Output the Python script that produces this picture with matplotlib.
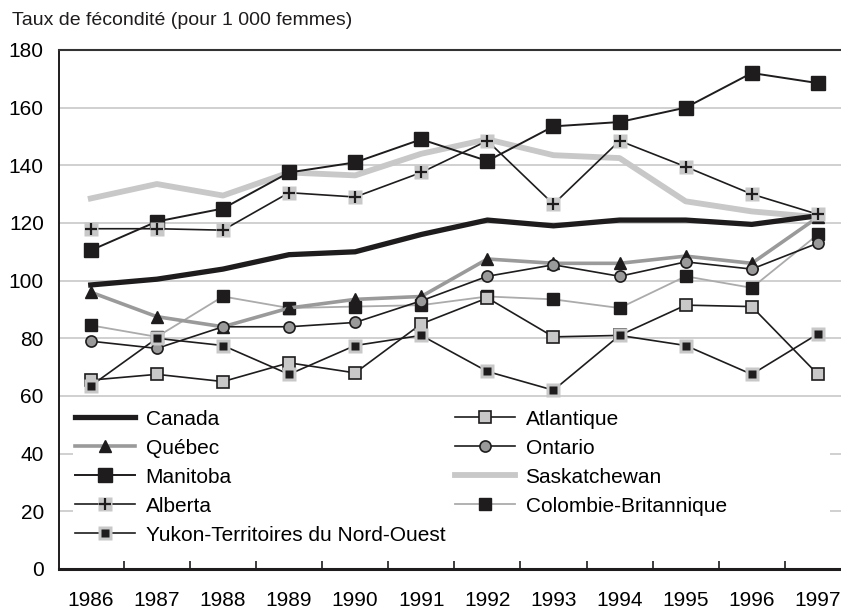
import matplotlib
matplotlib.use("Agg")
import matplotlib.pyplot as plt
import matplotlib.patches as patches
from matplotlib.legend_handler import HandlerTuple

plt.rcParams['font.family'] = ['Liberation Sans', 'DejaVu Sans']

# donnees
annees = [1986, 1987, 1988, 1989, 1990, 1991, 1992, 1993, 1994, 1995, 1996, 1997]
canada = [98.5, 100.5, 104, 109, 110, 116, 121, 119, 121, 121, 119.5, 122.5]
atlantique = [65.5, 67.5, 65, 71.5, 68, 85, 94, 80.5, 81, 91.5, 91, 67.5]
quebec = [96, 87.5, 84, 90.5, 93.5, 94.5, 107.5, 106, 106, 108.5, 106, 122]
ontario = [79, 76.5, 84, 84, 85.5, 93, 101.5, 105.5, 101.5, 106.5, 104, 113]
manitoba = [110.5, 120.5, 125, 137.5, 141, 149, 141.5, 153.5, 155, 160, 172, 168.5]
saskatchewan = [128.5, 133.5, 129.5, 137.5, 136.5, 144, 149, 143.5, 142.5, 127.5, 124, 122]
alberta = [118, 118, 117.5, 130.5, 129, 137.5, 148.5, 126.5, 148.5, 139.5, 130, 123]
colombie = [84.5, 80.5, 94.5, 90.5, 91, 91.5, 94.5, 93.5, 90.5, 101.5, 97.5, 116]
yukon = [63.5, 80, 77.5, 67.5, 77.5, 81, 68.5, 62, 81, 77.5, 67.5, 81.5]
y_ticks = [0, 20, 40, 60, 80, 100, 120, 140, 160, 180]

GRIS_CLAIR = '#c8c8c8'
GRIS = '#9a9a9a'
NOIR = '#1e1c1d'

fig = plt.figure(figsize=(8.41, 6.09), dpi=100)
ax = fig.add_axes([0.0702, 0.0657, 0.9298, 0.8523])

h_sask, = ax.plot(annees, saskatchewan, color=GRIS_CLAIR, lw=4.2, zorder=3)
h_can, = ax.plot(annees, canada, color=NOIR, lw=3.8, zorder=4)
h_cb, = ax.plot(annees, colombie, color='#ababab', lw=1.3, marker='s', ms=9,
                mfc=NOIR, mec=NOIR, zorder=4)
h_que, = ax.plot(annees, quebec, color=GRIS, lw=2.6, marker='^', ms=9,
                 mfc=NOIR, mec=NOIR, zorder=5)
h_ont, = ax.plot(annees, ontario, color=NOIR, lw=1.2, marker='o', ms=8,
                 mfc=GRIS, mec=NOIR, mew=1.2, zorder=5)
h_atl, = ax.plot(annees, atlantique, color=NOIR, lw=1.2, marker='s', ms=8,
                 mfc=GRIS_CLAIR, mec=NOIR, mew=1.2, zorder=6)
h_yuk1, = ax.plot(annees, yukon, color=NOIR, lw=1.2, marker='s', ms=9.5,
                  mfc=GRIS_CLAIR, mec='none', zorder=6)
h_yuk2, = ax.plot(annees, yukon, ls='none', marker='s', ms=6,
                  mfc=NOIR, mec='none', zorder=6)
h_man, = ax.plot(annees, manitoba, color=NOIR, lw=1.4, marker='s', ms=9.5,
                 mfc=NOIR, mec=NOIR, zorder=7)
h_alb1, = ax.plot(annees, alberta, color=NOIR, lw=1.2, marker='s', ms=10.5,
                  mfc=GRIS_CLAIR, mec='none', zorder=7)
h_alb2, = ax.plot(annees, alberta, ls='none', marker='+', ms=8, mew=1.6,
                  color=NOIR, zorder=7)

# axes
ax.set_xlim(1985.52, 1997.35)
ax.set_ylim(0, 180)
ax.set_yticks(y_ticks)
ax.set_yticklabels([str(v) for v in y_ticks], fontsize=15)
ax.set_xticks(annees)
ax.set_xticklabels([str(a) for a in annees], fontsize=15)
ax.set_xticks([a + 0.5 for a in annees[:-1]], minor=True)
ax.tick_params(axis='x', which='major', length=0, pad=16)
ax.tick_params(axis='x', which='minor', direction='in', length=6, width=1.2, color=NOIR)
ax.tick_params(axis='y', length=0, pad=11)
ax.grid(axis='y', color=GRIS_CLAIR, lw=1.2)
ax.set_axisbelow(True)
ax.spines['right'].set_visible(False)
ax.spines['left'].set_linewidth(1.4)
ax.spines['left'].set_color(NOIR)
ax.spines['bottom'].set_linewidth(2.2)
ax.spines['bottom'].set_color(NOIR)
ax.spines['top'].set_linewidth(1.5)
ax.spines['top'].set_color('#333333')

# fond blanc sous la legende
ax.add_patch(patches.Rectangle((0.018, 0.035), 0.968, 0.29, transform=ax.transAxes,
                               facecolor='white', edgecolor='none', zorder=1))

kw = dict(frameon=False, fontsize=15, handlelength=2.9, handletextpad=0.5,
          labelspacing=0.48, borderaxespad=0, borderpad=0,
          handler_map={tuple: HandlerTuple(ndivide=1)})
leg1 = ax.legend([h_can, h_que, h_man, (h_alb1, h_alb2), (h_yuk1, h_yuk2)],
                 ['Canada', 'Québec', 'Manitoba', 'Alberta', 'Yukon-Territoires du Nord-Ouest'],
                 loc='upper left', bbox_to_anchor=(0.02, 0.307), **kw)
leg1.set_zorder(8)
ax.add_artist(leg1)
leg2 = ax.legend([h_atl, h_ont, h_sask, h_cb],
                 ['Atlantique', 'Ontario', 'Saskatchewan', 'Colombie-Britannique'],
                 loc='upper left', bbox_to_anchor=(0.506, 0.307), **kw)
leg2.set_zorder(8)

fig.text(0.014, 0.966, 'Taux de fécondité (pour 1 000 femmes)', fontsize=14,
         ha='left', va='center', color=NOIR)

fig.savefig('out.png', dpi=100)
